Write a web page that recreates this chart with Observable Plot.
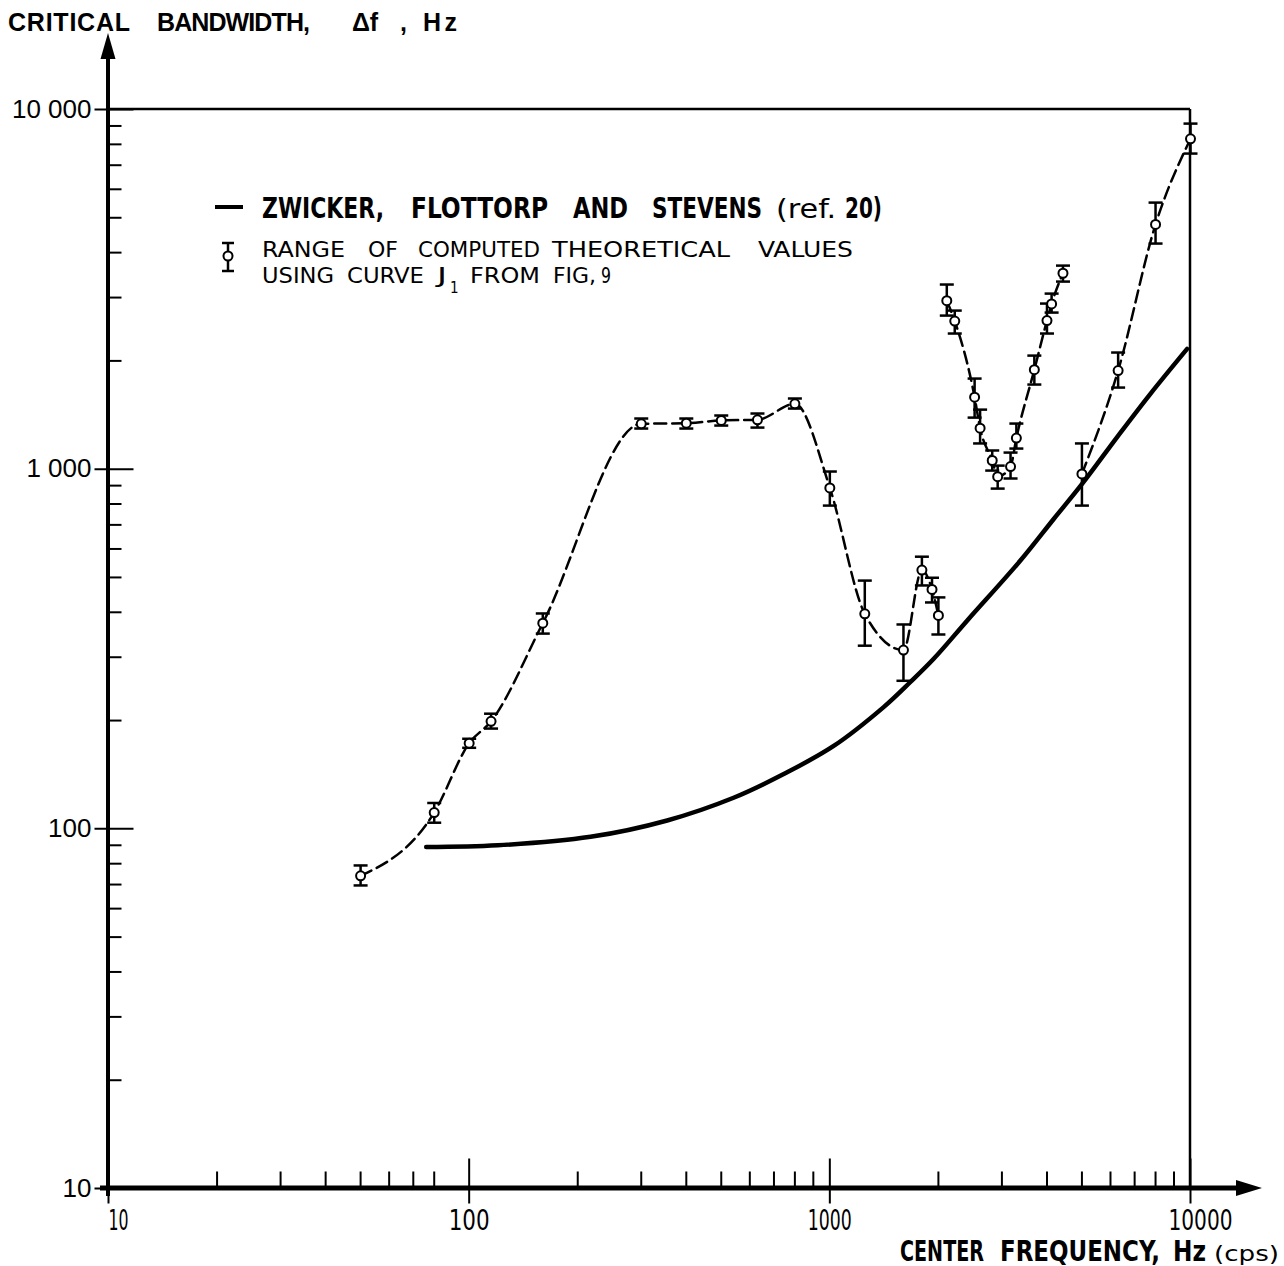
<!DOCTYPE html>
<html><head><meta charset="utf-8">
<script src="https://cdn.jsdelivr.net/npm/d3@7"></script>
<script src="https://cdn.jsdelivr.net/npm/@observablehq/plot@0.6"></script>
<style>body{margin:0;background:#fff}</style>
</head><body><div id="chart"></div>
<script>
// ---- data ----
const freq  = [50,80,100,115,160,300,400,500,630,800,1000,1250,1600,1800,1920,2000,
               2110,2220,2520,2610,2820,2920,3170,3290,3690,4000,4120,4430,
               5000,6300,8000,10000];
const value = [74,111,173,199,373,1337,1342,1366,1372,1519,887,396,314,524,463,392,
               2940,2580,1585,1300,1057,953,1017,1220,1890,2590,2880,3505,
               970,1880,4790,8290];
const low   = [69.6,104,168,190,349,1297,1297,1322,1305,1474,792,323,258,475,426,347,
               2673,2383,1391,1179,991,883,942,1141,1719,2383,2725,3323,
               792,1686,4239,7542];
const high  = [79.1,118,178,209,397,1383,1383,1410,1428,1572,985,490,370,571,499,440,
               3261,2760,1786,1464,1127,1023,1112,1339,2069,2887,3077,3681,
               1179,2110,5510,9137];
const segment = [1,1,1,1,1,1,1,1,1,1,1,1,1,1,1,1,
                 2,2,2,2,2,2,2,2,2,2,2,2,
                 3,3,3,3];
// Zwicker, Flottorp and Stevens curve
const zFreq = [76,120,217,354,541,745,1025,1410,1673,1941,2402,3376,4176,5005,6283,7742,9786];
const zBand = [89,90,95,105.5,122,142,170,218,256,297,379,557,727,910,1234,1620,2160];
// ticks
const yMajor = [10,100,1000,10000];
const yMinor = [20,30,40,50,60,70,80,90,200,300,400,500,600,700,800,900,2000,3000,4000,5000,6000,7000,8000,9000];
const xMajor = [10,100,1000,10000];
const xMinor = [20,30,40,50,60,70,80,200,300,400,500,600,700,800,900,2000,3000,4000,5000,6000,7000,8000,9000];

const pts = freq.map((f,i)=>({f, v:value[i], lo:low[i], hi:high[i], seg:segment[i]}));
const zw = zFreq.map((f,i)=>({f, v:zBand[i]}));

const NARROW = "'Liberation Sans Narrow','DejaVu Sans Condensed','Arial Narrow',sans-serif";
const SANS = "'Liberation Sans',Arial,Helvetica,sans-serif";

const capSym = {draw(c){c.moveTo(-7,0);c.lineTo(7,0);}};
const tickInY = {draw(c){c.moveTo(0,0);c.lineTo(13,0);}};
const tickMajY = {draw(c){c.moveTo(-14,0);c.lineTo(25,0);}};
const tickInX = {draw(c){c.moveTo(0,0);c.lineTo(0,-17);}};
const tickMajX = {draw(c){c.moveTo(0,15);c.lineTo(0,-30);}};

const fmtY = d => d >= 1000 ? d3.format(",")(d).replace(/,/g," ") : String(d);

const plot = Plot.plot({
  width:1284, height:1266,
  marginLeft:108, marginRight:94, marginTop:109, marginBottom:78,
  x:{type:"log", domain:[10,10000]},
  y:{type:"log", domain:[10,10000]},
  style:{background:"white", overflow:"visible"},
  marks:[
    Plot.axisY(yMajor, {tickSize:0, tickPadding:17, tickFormat:fmtY, fontSize:26, fontFamily:SANS, label:null}),
    Plot.axisX(xMajor, {tickSize:0, tickPadding:22, tickFormat:d=>String(d), fontSize:28, fontFamily:NARROW, label:null}),
    Plot.dot(yMinor, {y:d=>d, frameAnchor:"left", symbol:tickInY, fill:"none", stroke:"black", strokeWidth:2}),
    Plot.dot(yMajor, {y:d=>d, frameAnchor:"left", symbol:tickMajY, fill:"none", stroke:"black", strokeWidth:2}),
    Plot.dot(xMinor, {x:d=>d, frameAnchor:"bottom", symbol:tickInX, fill:"none", stroke:"black", strokeWidth:2}),
    Plot.dot(xMajor, {x:d=>d, frameAnchor:"bottom", symbol:tickMajX, fill:"none", stroke:"black", strokeWidth:2}),
    Plot.line(pts, {x:"f", y:"v", z:"seg", curve:"monotone-x", stroke:"black", strokeWidth:2.5, strokeDasharray:"12,6"}),
    Plot.line(zw, {x:"f", y:"v", curve:"catmull-rom", stroke:"black", strokeWidth:4.5}),
    Plot.ruleX(pts, {x:"f", y1:"lo", y2:"hi", stroke:"black", strokeWidth:2.5}),
    Plot.dot(pts, {x:"f", y:"lo", symbol:capSym, fill:"none", stroke:"black", strokeWidth:2.5}),
    Plot.dot(pts, {x:"f", y:"hi", symbol:capSym, fill:"none", stroke:"black", strokeWidth:2.5}),
    Plot.dot(pts, {x:"f", y:"v", r:4.5, fill:"white", stroke:"black", strokeWidth:2})
  ]
});
document.getElementById("chart").append(plot);

// ---- decorations: frame, axes with arrows, titles, legend ----
const svg = d3.select(plot);
const X = plot.scale("x"), Y = plot.scale("y");
const x0 = X.apply(10), x1 = X.apply(10000), y0 = Y.apply(10), y1 = Y.apply(10000);

const g = svg.insert("g","g").attr("stroke","black").attr("fill","none");
g.append("line").attr("x1",x0).attr("x2",x1).attr("y1",y1).attr("y2",y1).attr("stroke-width",2.5);
g.append("line").attr("x1",x1).attr("x2",x1).attr("y1",y1).attr("y2",y0).attr("stroke-width",2.5);
g.append("line").attr("x1",x0).attr("x2",x0).attr("y1",y1-52).attr("y2",y0+8).attr("stroke-width",4);
g.append("line").attr("x1",x0-8).attr("x2",x1+50).attr("y1",y0).attr("y2",y0).attr("stroke-width",5);
g.append("path").attr("d",`M${x0},${y1-76}L${x0-7.5},${y1-50}L${x0+7.5},${y1-50}Z`).attr("fill","black").attr("stroke","none");
g.append("path").attr("d",`M${x1+72},${y0}L${x1+46},${y0-8}L${x1+46},${y0+8}Z`).attr("fill","black").attr("stroke","none");

// x tick label condensing
const xLen = {"10":20,"100":41,"1000":44,"10000":64};
const xDx = {"10":10,"10000":10};
svg.selectAll('g[aria-label="x-axis tick label"] text').each(function(){
  const s = this.textContent;
  d3.select(this).attr("textLength", xLen[s]).attr("lengthAdjust","spacingAndGlyphs").attr("dx", xDx[s]||0);
});

const tg = svg.append("g").attr("fill","black").attr("text-anchor","start");
function addText(s, x, y, o={}) {
  const t = tg.append("text").attr("x",x).attr("y",y).attr("text-anchor","start")
    .attr("font-family", o.family||NARROW).attr("font-size", o.size||28)
    .attr("font-weight", o.weight||"normal");
  if (o.len) t.attr("textLength", o.len).attr("lengthAdjust", o.adjust||"spacingAndGlyphs");
  t.text(s);
  return t;
}
// y title
[["CRITICAL",8,130],["BANDWIDTH,",157,310],["Δf",352,378],[",",400,405],["Hz",423,457]]
  .forEach(([s,a,b]) => addText(s, a, 31, {family:SANS, size:25, weight:"bold", len: s.length>1 ? b-a : null, adjust:"spacing"}));
// x title
[["CENTER",900,984],["FREQUENCY,",1000,1160],["Hz",1173,1206]]
  .forEach(([s,a,b]) => addText(s, a, 1261, {size:28, weight:"bold", len:b-a}));
addText("(cps)", 1214, 1261, {size:22, len:65});

// legend
const lg = svg.append("g").attr("stroke","black").attr("fill","none");
lg.append("line").attr("x1",215).attr("x2",243).attr("y1",207).attr("y2",207).attr("stroke-width",4);
lg.append("line").attr("x1",228).attr("x2",228).attr("y1",243).attr("y2",271).attr("stroke-width",2.5);
lg.append("line").attr("x1",222).attr("x2",234).attr("y1",243).attr("y2",243).attr("stroke-width",2.5);
lg.append("line").attr("x1",222).attr("x2",234).attr("y1",271).attr("y2",271).attr("stroke-width",2.5);
lg.append("circle").attr("cx",228).attr("cy",256).attr("r",4.5).attr("fill","white").attr("stroke-width",2);

[["ZWICKER,",262,384],["FLOTTORP",411,548],["AND",573,628],["STEVENS",652,762]]
  .forEach(([s,a,b]) => addText(s, a, 218, {size:28, weight:"bold", len:b-a}));
addText("(ref.", 776, 218, {size:26, len:60});
addText("20)", 845, 218, {size:28, weight:"bold", len:37});
[["RANGE",262,345],["OF",368,398],["COMPUTED",418,540],["THEORETICAL",552,730],["VALUES",758,853]]
  .forEach(([s,a,b]) => addText(s, a, 257, {size:22, len:b-a}));
[["USING",262,334],["CURVE",347,424],["J",437,447],["FROM",470,540],["FIG,",553,596],["9",601,611]]
  .forEach(([s,a,b]) => addText(s, a, 283, {size:22, len:b-a}));
addText("1", 450, 293, {size:15});
</script>
</body></html>
